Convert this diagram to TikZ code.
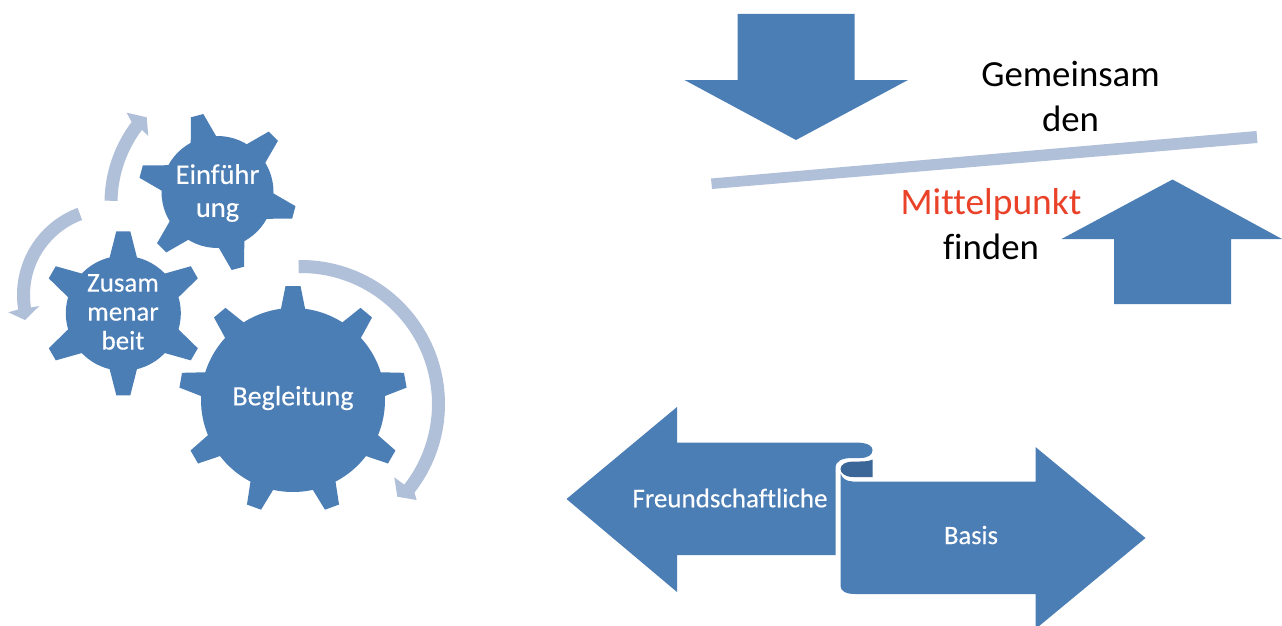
\documentclass[tikz,border=0pt]{standalone}
\usepackage{fontspec}
\setmainfont{Carlito}[Ligatures=CommonOff]
\newfontfamily\heavyfont{Carlito}[Ligatures=CommonOff,FakeBold=0.25]
\definecolor{bluefill}{HTML}{4C7EB6}
\definecolor{lightfill}{HTML}{B1C0D9}
\definecolor{darkfill}{HTML}{3A6797}
\definecolor{redtext}{HTML}{EA4129}
\tikzset{
  bluearrow/.style={fill=bluefill},
  lightarrow/.style={fill=lightfill},
  whitelabel/.style={text=white,align=center,inner sep=0pt},
  blacklabel/.style={text=black,align=center,inner sep=0pt},
}
% cx cy R tipR tipW baseW n startAngle
\newcommand{\gearshape}[8]{%
  \fill[bluefill] (#1,#2) circle[radius=#3pt];
  \foreach \k in {1,...,#7}{%
    \pgfmathsetmacro{\ang}{#8-(\k-1)*360/#7}%
    \begin{scope}[shift={(#1,#2)},rotate=\ang]
      \fill[bluefill] ({#3-3},{-#6/2}) -- (#4,{-#5/2}) -- (#4,{#5/2}) -- ({#3-3},{#6/2}) -- cycle;
    \end{scope}
  }%
}
% cx cy rIn rOut a0 a1  then head points
\newcommand{\bentarrow}[9]{%
  \fill[lightarrow] plot[domain=#5:#6,samples=60] ({#1+#4*cos(\x)},{#2+#4*sin(\x)})
    -- #7 -- #8 -- #9
    -- plot[domain=#6:#5,samples=60] ({#1+#3*cos(\x)},{#2+#3*sin(\x)}) -- cycle;
}
\begin{document}
\begin{tikzpicture}[x=1pt,y=-1pt]
\clip (0,0) rectangle (1282,626);
\fill[white] (0,0) rectangle (1282,626);
% circular arrows
\bentarrow{301}{404}{131}{144}{-91}{38}{(416.7,500)}{(397.3,496.7)}{(394.3,477.3)}
\bentarrow{239}{203}{121.5}{134.5}{181}{217}{(126.7,112.7)}{(146.7,117.3)}{(148.3,136)}
\bentarrow{110}{295}{80}{93}{249.6}{171}{(8.3,312.3)}{(25,320)}{(39.3,306)}
% gears
\gearshape{217.5}{192}{56}{79}{13}{27}{6}{105}
\gearshape{123.3}{313.3}{57.5}{82}{14}{28}{6}{90}
\gearshape{293}{400}{92}{114}{15}{25}{9}{90}
\node[whitelabel,font=\heavyfont\fontsize{28.5}{33}\selectfont] (einf) at (217.5,193) {Einführ\\ung};
\node[whitelabel,font=\heavyfont\fontsize{27}{29}\selectfont] (zus) at (123,312) {Zusam\\menar\\beit};
\node[whitelabel,font=\heavyfont\fontsize{28}{33}\selectfont] (begl) at (293,398) {Begleitung};
% top right block arrows
\fill[bluearrow] (737.5,14) -- (854.5,14) -- (854.5,80) -- (908,80) -- (796,140) -- (684.5,80) -- (737.5,80) -- cycle;
\fill[bluearrow] (1114,304) -- (1231,304) -- (1231,239) -- (1282,239) -- (1172.5,179.5) -- (1061.5,239) -- (1114,239) -- cycle;
\fill[lightfill] (711,178.5) -- (1256.5,131) -- (1257.5,143) -- (712,189) -- cycle;
\node[blacklabel,font=\fontsize{36.8}{45}\selectfont] (gem) at (1070.5,96) {Gemeinsam\\den};
\node[inner sep=0pt,text=redtext,font=\fontsize{37.5}{44}\selectfont] (mit) at (991,205) {Mittelpunkt};
\node[blacklabel,font=\fontsize{36.8}{44}\selectfont] (fin) at (991,247) {finden};
% ribbon arrows
\fill[bluearrow] (566.5,499) -- (677,407) -- (677,442.5) -- (855,442.5)
  .. controls (868,442.5) and (872.5,446) .. (872.5,450)
  .. controls (872.5,455) and (868,458) .. (860,458)
  -- (852,458) .. controls (842,458) and (835.5,461) .. (835.5,468)
  -- (835.5,555) -- (677,555) -- (677,592) -- cycle;
\fill[darkfill] (872.5,459.5) -- (872.5,477) -- (853,477)
  .. controls (845,477) and (840.5,473) .. (840.5,469)
  .. controls (840.5,464.5) and (846,461.5) .. (853,461.5)
  -- (860,461.5) .. controls (865,461.5) and (870,461) .. (872.5,459.5) -- cycle;
\fill[bluearrow] (840.5,473.5) .. controls (842,478) and (846,481.5) .. (853,481.5)
  -- (1035.5,481.5) -- (1035.5,447) -- (1145.5,538) -- (1035.5,629) -- (1035.5,594)
  -- (855,594) .. controls (846,594) and (840.5,591) .. (840.5,586) -- cycle;
\node[whitelabel,font=\heavyfont\fontsize{27}{30}\selectfont] (fre) at (730,498) {Freundschaftliche};
\node[whitelabel,font=\heavyfont\fontsize{26.5}{30}\selectfont] (bas) at (971,535) {Basis};
\end{tikzpicture}
\end{document}
